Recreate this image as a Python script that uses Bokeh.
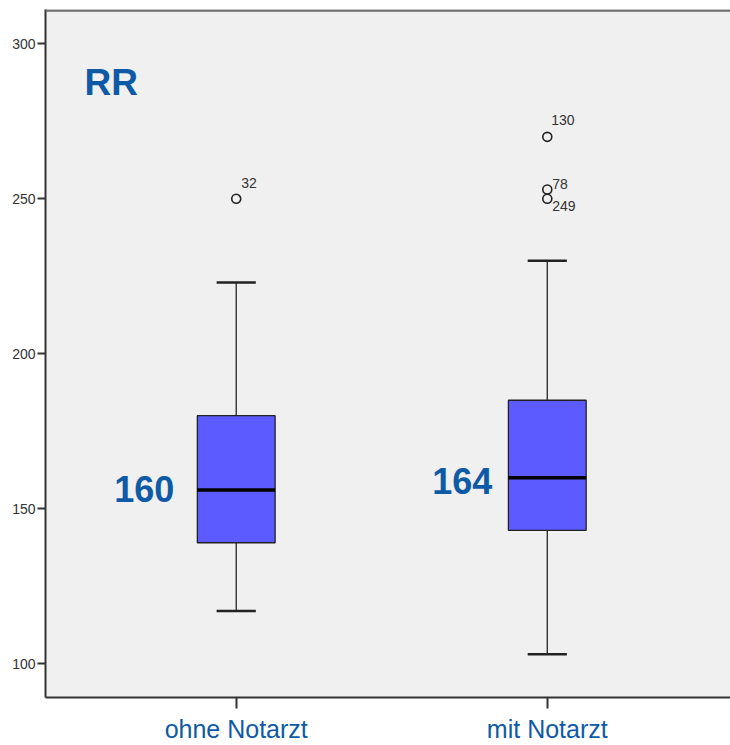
import numpy as np
from bokeh.plotting import figure
from bokeh.models import Range1d, FixedTicker, Span, Label
from bokeh.core.properties import value
from bokeh.embed import file_html
from bokeh.resources import INLINE

# Blood pressure (RR) by group: box plot statistics
groups = ["ohne Notarzt", "mit Notarzt"]
positions = [1, 2]
q1 = [139, 143]
median = [156, 160]
q3 = [180, 185]
whisker_low = [117, 103]
whisker_high = [223, 230]
group_labels = ["160", "164"]

# Outliers with their case numbers
outlier_pos = [1, 2, 2, 2]
outlier_value = [250, 270, 253, 250]
outlier_case = ["32", "130", "78", "249"]

y_ticks = [100, 150, 200, 250, 300]

BLUE_TEXT = "#0f5aa6"
BOX_FILL = "#5b5bff"
DARK = "#222222"
SMALL_FONT = "Liberation Sans"

pos = np.array(positions, dtype=float)
box_w = 0.25
cap_half = 0.063

p = figure(width=730, height=745, output_backend="svg", toolbar_location=None,
           x_range=Range1d(0.3868, 2.589), y_range=Range1d(89.06, 311.1),
           min_border_left=45, min_border_right=0, min_border_top=9,
           min_border_bottom=46)
p.background_fill_color = "#f0f0f0"
p.border_fill_color = "white"
p.outline_line_color = None
p.grid.visible = False

# whiskers and caps
p.segment(x0=pos, x1=pos, y0=q3, y1=whisker_high, line_color="#333333", line_width=1.4)
p.segment(x0=pos, x1=pos, y0=q1, y1=whisker_low, line_color="#333333", line_width=1.4)
p.segment(x0=pos - cap_half, x1=pos + cap_half, y0=whisker_high, y1=whisker_high,
          line_color=DARK, line_width=2.5)
p.segment(x0=pos - cap_half, x1=pos + cap_half, y0=whisker_low, y1=whisker_low,
          line_color=DARK, line_width=2.5)

# boxes and medians
p.vbar(x=pos, width=box_w, bottom=q1, top=q3, fill_color=BOX_FILL,
       line_color=DARK, line_width=1.3)
p.segment(x0=pos - box_w / 2, x1=pos + box_w / 2, y0=median, y1=median,
          line_color="black", line_width=3.5)

# outliers and their case numbers
p.scatter(x=outlier_pos, y=outlier_value, marker="circle", size=9,
          fill_color=None, line_color=DARK, line_width=1.6)
p.text(x=outlier_pos, y=outlier_value, text=outlier_case,
       x_offset=[5, 4, 5, 5], y_offset=[-16, -17, -6, 7],
       text_align="left", text_baseline="middle",
       text_font=value(SMALL_FONT), text_font_size="14px",
       text_color="#333333")

# group values beside the boxes
p.text(x=pos, y=median, text=group_labels, x_offset=[-62, -55], y_offset=[-1, 3],
       text_align="right", text_baseline="middle",
       text_font=value("Liberation Sans"), text_font_style="bold",
       text_font_size="36px", text_color=BLUE_TEXT)

p.add_layout(Label(x=0.512, y=287.4, text="RR", text_font="Liberation Sans",
                   text_font_style="bold", text_font_size="37px",
                   text_color=BLUE_TEXT, text_baseline="alphabetic"))

# top border of the frame
p.add_layout(Span(location=310.8, dimension="width", line_color="#6e6e6e",
                  line_width=2.5))

# y axis
ya = p.yaxis[0]
ya.ticker = FixedTicker(ticks=y_ticks)
ya.minor_tick_line_color = None
ya.major_tick_in = 0
ya.major_tick_out = 8
ya.major_tick_line_width = 2
ya.major_tick_line_color = "#333333"
ya.axis_line_color = "#333333"
ya.axis_line_width = 2
ya.major_label_standoff = 2
ya.major_label_text_font = SMALL_FONT
ya.major_label_text_font_size = "14px"
ya.major_label_text_color = "#333333"

# x axis
xa = p.xaxis[0]
xa.ticker = FixedTicker(ticks=positions)
xa.major_label_overrides = {k: v for k, v in zip(positions, groups)}
xa.minor_tick_line_color = None
xa.major_tick_in = 0
xa.major_tick_out = 11
xa.major_tick_line_width = 2
xa.major_tick_line_color = "#333333"
xa.axis_line_color = "#333333"
xa.axis_line_width = 2
xa.major_label_standoff = 6
xa.major_label_text_font = "Liberation Sans"
xa.major_label_text_font_size = "25px"
xa.major_label_text_color = BLUE_TEXT

open("out.html", "w").write(file_html(p, INLINE))
